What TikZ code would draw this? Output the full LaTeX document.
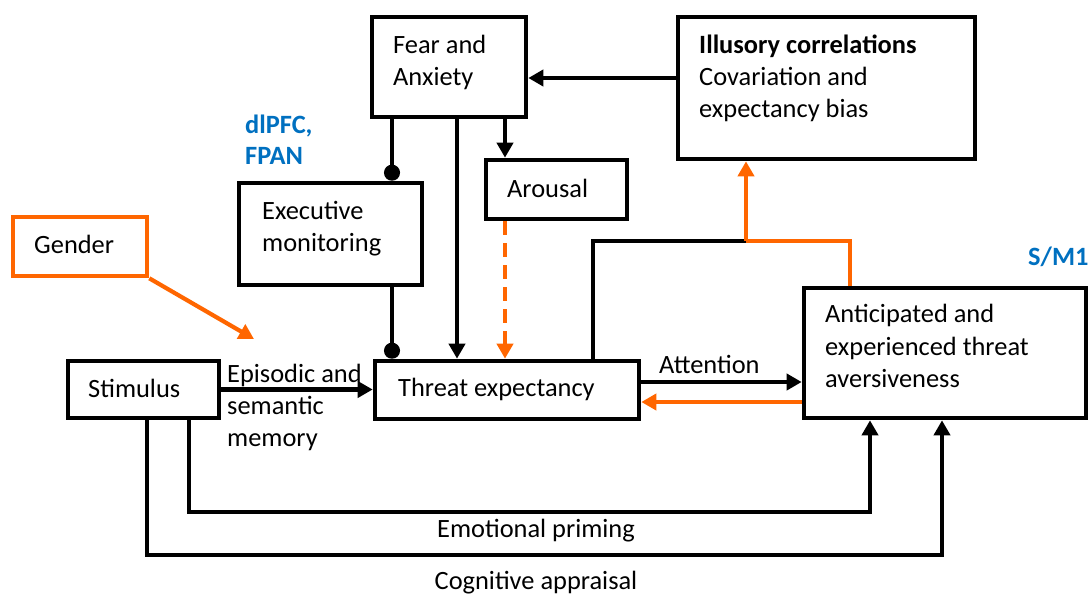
\documentclass[tikz,border=0pt]{standalone}
\usepackage{fontspec}
\setmainfont{Carlito}
\usetikzlibrary{arrows.meta}
\definecolor{orng}{RGB}{255,102,0}
\definecolor{lblue}{RGB}{0,112,192}
\begin{document}
\begin{tikzpicture}[x=1pt,y=-1pt,
  box/.style={draw,line width=4.6pt,rectangle,inner sep=0pt},
  txt/.style={anchor=base west,inner sep=0pt,font=\fontsize{26.4}{32}\selectfont},
  ctxt/.style={anchor=base,inner sep=0pt,font=\fontsize{26.4}{32}\selectfont},
  btxt/.style={anchor=base west,inner sep=0pt,text=lblue,font=\fontsize{26.4}{32}\selectfont\bfseries},
  conn/.style={line width=4.2pt},
  arr/.style={conn,-{Triangle[length=15pt,width=16pt]}},
  circ/.style={conn,-{Circle[length=16pt]}},
  oconn/.style={conn,draw=orng},
  oarr/.style={conn,draw=orng,-{Triangle[length=15pt,width=16pt]}}]
\useasboundingbox (0,0) rectangle (1091,597);
% boxes
\node[box,minimum width=154pt,minimum height=100pt] (fear) at (449,67) {};
\node[box,minimum width=297pt,minimum height=142pt] (illus) at (826.5,88) {};
\node[box,minimum width=141pt,minimum height=59pt] (arousal) at (556.5,189.5) {};
\node[box,minimum width=183pt,minimum height=102pt] (exec) at (330.5,234) {};
\node[box,minimum width=151pt,minimum height=57pt] (stim) at (143.5,389.5) {};
\node[box,minimum width=264pt,minimum height=58pt] (threat) at (507,390) {};
\node[box,minimum width=282pt,minimum height=130pt] (antic) at (945,353) {};
\node[box,draw=orng,minimum width=134pt,minimum height=59pt] (gender) at (80,246.5) {};
% texts
\node[txt] (t1) at (393,53) {Fear and};
\node[txt] (t2) at (393,85) {Anxiety};
\node[txt,font=\fontsize{26.4}{32}\selectfont\bfseries] (t3) at (699,53) {Illusory correlations};
\node[txt] (t4) at (699,85) {Covariation and};
\node[txt] (t5) at (699,117) {expectancy bias};
\node[txt] (t6) at (507,197) {Arousal};
\node[txt] (t7) at (262,219) {Executive};
\node[txt] (t8) at (262,251) {monitoring};
\node[txt] (t9) at (34,253) {Gender};
\node[txt] (t10) at (88,397) {Stimulus};
\node[txt] (t11) at (227,382) {Episodic and};
\node[txt] (t12) at (227,414) {semantic};
\node[txt] (t13) at (227,446) {memory};
\node[txt] (t14) at (398,396) {Threat expectancy};
\node[txt] (t15) at (659,373) {Attention};
\node[txt] (t16) at (825,322) {Anticipated and};
\node[txt] (t17) at (825,355) {experienced threat};
\node[txt] (t18) at (825,387) {aversiveness};
\node[ctxt] (t19) at (536,537) {Emotional priming};
\node[ctxt] (t20) at (536,589) {Cognitive appraisal};
\node[btxt] (b1) at (245,133) {dlPFC,};
\node[btxt] (b2) at (245,164) {FPAN};
\node[btxt] (b3) at (1028,265) {S/M1};
% connectors
\draw[arr] (illus.west |- 0,78) -- (fear.east |- 0,78);
\draw[circ] (fear.south -| 392,0) -- (exec.north -| 392,0);
\draw[circ] (exec.south -| 392,0) -- (threat.north -| 392,0);
\draw[arr] (fear.south -| 457,0) -- (threat.north -| 457,0);
\draw[arr] (fear.south -| 505,0) -- (arousal.north -| 505,0);
\draw[oarr,dash pattern=on 14pt off 8pt] (arousal.south -| 505,0) -- (threat.north -| 505,0);
\draw[arr] (stim.east) -- (threat.west |- stim.east);
\coordinate (j) at (746,241);
\draw[conn] (threat.north -| 593,0) |- (j);
\draw[oconn] (j) -| (antic.north -| 850,0);
\draw[oarr] (j) -- (illus.south -| j);
\draw[arr] (threat.east |- 0,382) -- (antic.west |- 0,382);
\draw[oarr] (antic.west |- 0,402) -- (threat.east |- 0,402);
\draw[arr] (stim.south -| 189,0) |- (870,512) -- (antic.south -| 870,0);
\draw[arr] (stim.south -| 147,0) |- (942,555) -- (antic.south -| 942,0);
\coordinate (g) at (254,339);
\draw[oarr] (gender.south east) -- (g);
\end{tikzpicture}
\end{document}
